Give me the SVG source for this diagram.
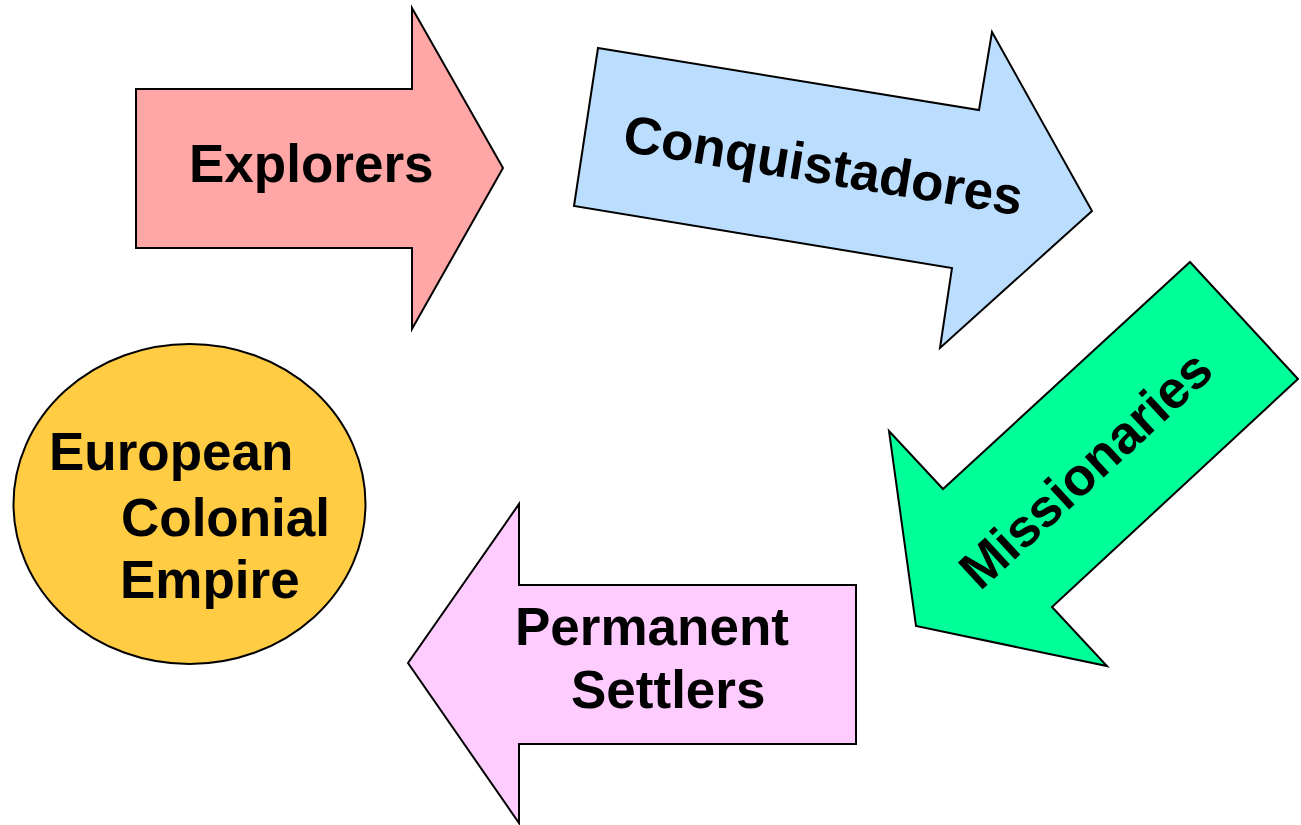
<svg xmlns="http://www.w3.org/2000/svg" width="1301" height="825" viewBox="0 0 1301 825">
<style>
.shape{stroke:#000;stroke-width:2;stroke-linejoin:miter}
.lbl{font-family:"Liberation Sans",Arial,sans-serif;font-weight:bold;font-size:53px;fill:#000}
</style>
<rect width="1301" height="825" fill="#fff"/>
<g id="connectors"></g>
<g id="explorers">
<polygon class="shape" fill="#FFA6A6" points="136,89 412,89 412,8 503,168 412,329 412,248 136,248"/>
<text class="lbl" x="189" y="182">Explorers</text>
</g>
<g id="conquistadores">
<polygon class="shape" fill="#BBDEFF" points="598,48 979,110 992,32 1092,211 940,348 952,268 574,206"/>
<text class="lbl" transform="translate(823.5,164.5) rotate(9.2)" x="0" y="19" text-anchor="middle">Conquistadores</text>
</g>
<g id="missionaries">
<polygon class="shape" fill="#00FF99" points="1190,262 1298,379 1052,607 1107,666 916,626 889,431 943,489"/>
<text class="lbl" transform="translate(1085,469) rotate(-42.7)" x="0" y="19" text-anchor="middle">Missionaries</text>
</g>
<g id="settlers">
<polygon class="shape" fill="#FFCCFF" points="856,585 519,585 519,504 408,663 519,823 519,744 856,744"/>
<text class="lbl" x="515" y="645">Permanent</text>
<text class="lbl" x="571" y="708">Settlers</text>
</g>
<g id="empire">
<ellipse class="shape" fill="#FFCC44" cx="189.5" cy="504" rx="176" ry="160"/>
<text class="lbl" x="49" y="470">European</text>
<text class="lbl" x="121" y="536">Colonial</text>
<text class="lbl" x="120" y="598">Empire</text>
</g>
</svg>
